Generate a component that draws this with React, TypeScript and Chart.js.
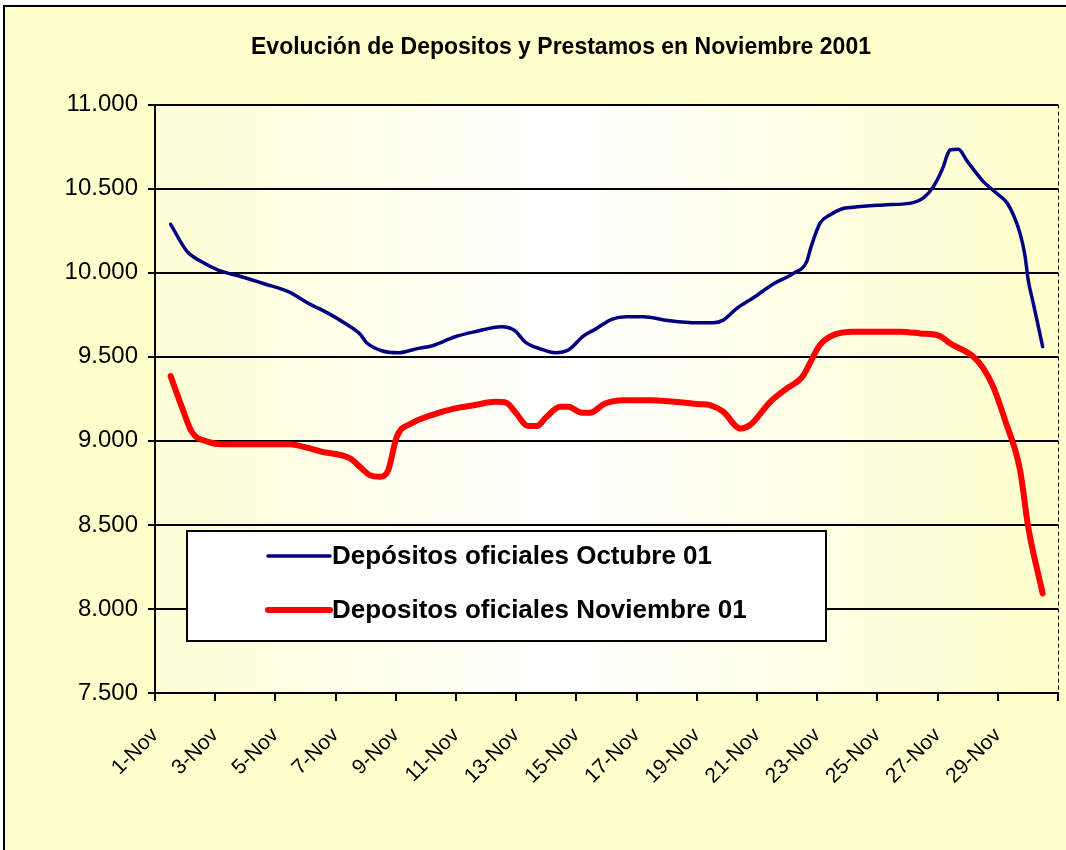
import React, { useEffect, useRef } from 'react';
import { Chart, registerables } from 'chart.js';

Chart.register(...registerables);

const FONT = '"Liberation Sans", Arial, sans-serif';

const chartTitle = 'Evolución de Depositos y Prestamos en Noviembre 2001';
const seriesNames = ['Depósitos oficiales Octubre 01', 'Depositos oficiales Noviembre 01'];
const xTickLabels = [
  '1-Nov', '3-Nov', '5-Nov', '7-Nov', '9-Nov', '11-Nov', '13-Nov', '15-Nov',
  '17-Nov', '19-Nov', '21-Nov', '23-Nov', '25-Nov', '27-Nov', '29-Nov',
];
const yMin = 7500;
const yMax = 11000;
const yStep = 500;

// Depósitos oficiales Octubre 01 (day of month, value)
const octDays = [
  1.52, 2.07, 2.55, 3.1, 3.88, 4.65, 5.43, 6.09, 6.76, 7.31, 7.81, 8.03, 8.53, 9.08,
  9.75, 10.19, 10.97, 11.63, 12.52, 12.96, 13.29, 13.85, 14.29, 14.73, 15.23, 15.62,
  16.17, 16.67, 17.22, 18.11, 19.0, 19.55, 19.88, 20.33, 20.88, 21.54, 22.21, 22.65,
  22.78, 23.09, 23.42, 23.81, 24.2, 25.2, 26.19, 26.52, 26.86, 27.19, 27.3, 27.41,
  27.69, 27.97, 28.52, 28.96, 29.3, 29.52, 29.74, 29.9, 30.01, 30.18, 30.49,
];
const octValues = [
  10288, 10125, 10065, 10016, 9976, 9933, 9887, 9818, 9758, 9699, 9635, 9583, 9536, 9524,
  9550, 9564, 9619, 9649, 9679, 9655, 9589, 9544, 9524, 9540, 9623, 9663,
  9723, 9738, 9738, 9714, 9702, 9702, 9718, 9788, 9851, 9933, 9996, 10065,
  10145, 10294, 10343, 10379, 10389, 10403, 10417, 10443, 10512, 10631, 10690, 10730,
  10734, 10667, 10542, 10473, 10417, 10343, 10234, 10105, 9957, 9818, 9560,
];

// Depositos oficiales Noviembre 01 (day of month, value)
const novDays = [
  1.52, 1.89, 2.22, 2.77, 3.22, 5.43, 6.54, 7.48, 7.81, 8.14, 8.48, 8.75, 9.03, 9.53,
  10.19, 10.97, 11.63, 12.3, 12.68, 12.96, 13.4, 13.68, 14.01, 14.46, 14.73, 15.18,
  15.45, 15.95, 16.56, 17.45, 19.11, 19.44, 19.88, 20.44, 20.77, 21.44, 21.99, 22.49,
  23.09, 23.54, 24.2, 25.75, 26.42, 27.08, 27.41, 28.19, 28.52, 28.85, 29.24, 29.74,
  30.01, 30.49,
];
const novValues = [
  9385, 9202, 9054, 8994, 8980, 8980, 8935, 8895, 8845, 8796, 8786, 8826, 9024, 9104,
  9153, 9193, 9213, 9232, 9226, 9173, 9088, 9088, 9143, 9202, 9202, 9167,
  9167, 9222, 9242, 9242, 9218, 9212, 9173, 9074, 9094, 9232, 9312, 9377,
  9570, 9629, 9649, 9649, 9639, 9623, 9580, 9500, 9431, 9321, 9123, 8826,
  8488, 8092,
];

const toPoints = (xs: number[], ys: number[]) => xs.map((x, i) => ({ x, y: ys[i] }));

const backgroundPlugin = {
  id: 'bgPlugin',
  beforeDraw(chart: any) {
    const { ctx, width, height, chartArea } = chart;
    ctx.save();
    ctx.fillStyle = '#ffffff';
    ctx.fillRect(0, 0, width, height);
    ctx.fillStyle = '#FFFFCC';
    ctx.fillRect(4, 6, width - 4, height - 6);
    ctx.strokeStyle = '#000000';
    ctx.lineWidth = 2;
    ctx.beginPath();
    ctx.moveTo(4, height + 2);
    ctx.lineTo(4, 6);
    ctx.lineTo(width + 2, 6);
    ctx.stroke();
    const g = ctx.createLinearGradient(chartArea.left, 0, chartArea.right, 0);
    g.addColorStop(0, '#FFFFD6');
    g.addColorStop(0.45, '#FFFFFF');
    g.addColorStop(1, '#FFFFCC');
    ctx.fillStyle = g;
    ctx.fillRect(chartArea.left, chartArea.top, chartArea.right - chartArea.left, chartArea.bottom - chartArea.top);
    ctx.restore();
  },
  afterDatasetsDraw(chart: any) {
    const { ctx, chartArea } = chart;
    ctx.save();
    ctx.strokeStyle = '#000000';
    ctx.lineWidth = 1;
    ctx.setLineDash([4, 3]);
    ctx.beginPath();
    ctx.moveTo(chartArea.right + 0.5, chartArea.top);
    ctx.lineTo(chartArea.right + 0.5, chartArea.bottom);
    ctx.stroke();
    ctx.restore();
  },
};

const boxLegendPlugin = {
  id: 'boxLegend',
  afterDraw(chart: any, _args: any, opts: any) {
    const { ctx } = chart;
    ctx.save();
    ctx.fillStyle = '#ffffff';
    ctx.fillRect(opts.left, opts.top, opts.width, opts.height);
    ctx.strokeStyle = '#000000';
    ctx.lineWidth = 2;
    ctx.strokeRect(opts.left, opts.top, opts.width, opts.height);
    chart.data.datasets.forEach((ds: any, i: number) => {
      const cy = opts.top + opts.firstRow + i * opts.rowGap;
      ctx.strokeStyle = ds.borderColor;
      ctx.lineWidth = ds.borderWidth;
      ctx.lineCap = 'round';
      ctx.beginPath();
      ctx.moveTo(opts.lineStart, cy);
      ctx.lineTo(opts.lineEnd, cy);
      ctx.stroke();
      ctx.fillStyle = '#000000';
      ctx.font = `bold ${opts.fontSize}px ${FONT}`;
      ctx.textAlign = 'left';
      ctx.textBaseline = 'middle';
      ctx.fillText(ds.label, opts.textX, cy + 1);
    });
    ctx.restore();
  },
};

function formatThousands(v: number) {
  const s = String(Math.round(v));
  return s.slice(0, -3) + '.' + s.slice(-3);
}

export default function App() {
  const canvasRef = useRef<HTMLCanvasElement | null>(null);

  useEffect(() => {
    if (!canvasRef.current) return;
    const chart = new Chart(canvasRef.current, {
      type: 'line',
      data: {
        datasets: [
          {
            label: seriesNames[0],
            data: toPoints(octDays, octValues),
            borderColor: '#000080',
            borderWidth: 3.5,
            pointRadius: 0,
            cubicInterpolationMode: 'monotone',
            borderCapStyle: 'round',
            borderJoinStyle: 'round',
            fill: false,
          },
          {
            label: seriesNames[1],
            data: toPoints(novDays, novValues),
            borderColor: '#FF0000',
            borderWidth: 6,
            pointRadius: 0,
            cubicInterpolationMode: 'monotone',
            borderCapStyle: 'round',
            borderJoinStyle: 'round',
            fill: false,
          },
        ],
      },
      options: {
        animation: false,
        responsive: false,
        maintainAspectRatio: false,
        layout: { padding: { left: 64, right: 8, top: 0, bottom: 0 } },
        plugins: {
          legend: { display: false },
          tooltip: { enabled: false },
          title: {
            display: true,
            text: chartTitle,
            color: '#000000',
            font: { family: FONT, size: 23, weight: 'bold', lineHeight: 1.2 },
            padding: { top: 34, bottom: 43 },
          },
          boxLegend: {
            left: 187,
            top: 531,
            width: 639,
            height: 110,
            firstRow: 25,
            rowGap: 54,
            lineStart: 268,
            lineEnd: 330,
            textX: 332,
            fontSize: 26,
          },
        } as any,
        scales: {
          x: {
            type: 'linear',
            min: 1,
            max: 31,
            afterFit: (s: any) => {
              s.height = 157;
              s.paddingLeft = 0;
              s.paddingRight = 0;
            },
            afterBuildTicks: (s: any) => {
              const t = [];
              for (let v = 1; v <= 31; v += 2) t.push({ value: v });
              s.ticks = t;
            },
            ticks: {
              autoSkip: false,
              maxRotation: 45,
              minRotation: 45,
              padding: 22,
              color: '#000000',
              font: { family: FONT, size: 21 },
              callback: (_v: any, i: number) => xTickLabels[i] ?? '',
            },
            grid: {
              display: true,
              drawOnChartArea: false,
              drawTicks: true,
              tickLength: 8,
              color: '#000000',
              lineWidth: 2,
            },
            border: { display: true, color: '#000000', width: 2 },
          },
          y: {
            min: yMin,
            max: yMax,
            afterFit: (s: any) => {
              s.width = 91;
              s.paddingTop = 0;
              s.paddingBottom = 0;
            },
            ticks: {
              stepSize: yStep,
              padding: 10,
              color: '#000000',
              font: { family: FONT, size: 24 },
              callback: (v: any) => formatThousands(Number(v)),
            },
            grid: {
              color: '#000000',
              lineWidth: 2,
              drawTicks: true,
              tickLength: 7,
            },
            border: { display: true, color: '#000000', width: 2 },
          },
        },
      } as any,
      plugins: [backgroundPlugin, boxLegendPlugin],
    });
    return () => chart.destroy();
  }, []);

  return (
    <div style={{ position: 'fixed', left: 0, top: 0, width: 1066, height: 850 }}>
      <canvas ref={canvasRef} width={1066} height={850} style={{ display: 'block', width: 1066, height: 850 }} />
    </div>
  );
}
